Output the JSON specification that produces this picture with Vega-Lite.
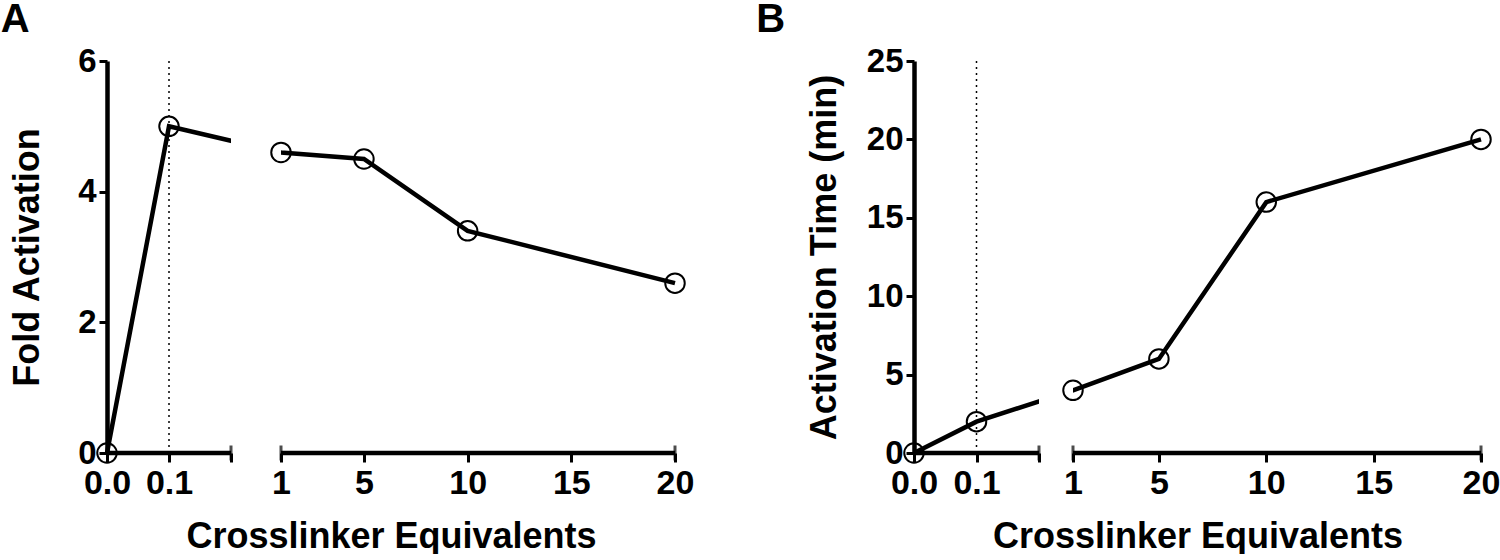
{
  "$schema": "https://vega.github.io/schema/vega-lite/v6.json",
  "background": "white",
  "padding": {"left": 0, "top": 0, "right": 0, "bottom": 0},
  "config": {
    "view": {"stroke": null},
    "font": "Liberation Sans",
    "title": {"font": "Liberation Sans", "fontSize": 40, "fontWeight": "bold", "color": "black", "anchor": "start", "frame": "bounds", "offset": 5},
    "axis": {
      "grid": false,
      "labelFont": "Liberation Sans", "labelFontWeight": "bold", "labelColor": "black",
      "titleFont": "Liberation Sans", "titleFontWeight": "bold", "titleColor": "black", "titleFontSize": 36,
      "domainColor": "black", "tickColor": "black"
    }
  },
  "datasets": {
    "a": [{"x": 0, "y": 0}, {"x": 0.1, "y": 5.0}, {"x": 1, "y": 4.6}, {"x": 5, "y": 4.5}, {"x": 10, "y": 3.4}, {"x": 20, "y": 2.6}],
    "b": [{"x": 0, "y": 0}, {"x": 0.1, "y": 2}, {"x": 1, "y": 4}, {"x": 5, "y": 6}, {"x": 10, "y": 16}, {"x": 20, "y": 20}],
    "segs": [{"x": 0, "x2": 0.2}, {"x": 1, "x2": 20}],
    "gap": [{"x": 0.2, "x2": 1}],
    "caps": [{"x": 0.2}, {"x": 1}, {"x": 20}],
    "ref": [{"x": 0.1}]
  },
  "spacing": 62,
  "hconcat": [
    {
      "width": 568, "height": 392,
      "title": {"text": "A", "dx": -9},
      "layer": [
        {
          "data": {"name": "a"},
          "mark": {"type": "line", "color": "black", "strokeWidth": 4.5},
          "encoding": {
            "x": {"field": "x", "type": "quantitative",
              "scale": {"domain": [0, 0.2, 1, 20], "range": [0, 124, 174, 568], "nice": false, "zero": false},
              "title": "Crosslinker Equivalents",
              "axis": {"domain": false, "values": [0, 0.1, 0.2, 1, 5, 10, 15, 20], "tickSize": 9, "tickWidth": 3,
                "labelFontSize": 34, "labelPadding": 4, "labelOverlap": false, "labelFlush": false, "titlePadding": 19,
                "labelExpr": "datum.value == 0.2 ? '' : (datum.value < 1 ? format(datum.value, '.1f') : format(datum.value, 'd'))"}},
            "y": {"field": "y", "type": "quantitative",
              "scale": {"domain": [0, 6], "nice": false},
              "title": "Fold Activation",
              "axis": {"values": [0, 2, 4, 6], "format": "d", "domainWidth": 4.5, "tickSize": 8, "tickWidth": 3, "labelFontSize": 33, "labelPadding": 3, "titlePadding": 31}}
          }
        },
        {
          "data": {"name": "gap"},
          "mark": {"type": "rect", "color": "white"},
          "encoding": {"x": {"field": "x", "type": "quantitative"}, "x2": {"field": "x2"}}
        },
        {
          "data": {"name": "segs"},
          "mark": {"type": "rule", "color": "black", "strokeWidth": 4.5},
          "encoding": {"x": {"field": "x", "type": "quantitative"}, "x2": {"field": "x2"}, "y": {"datum": 0}}
        },
        {
          "data": {"name": "caps"},
          "mark": {"type": "tick", "orient": "vertical", "color": "black", "size": 15, "thickness": 3},
          "encoding": {"x": {"field": "x", "type": "quantitative"}, "y": {"datum": 0}}
        },
        {
          "data": {"name": "ref"},
          "mark": {"type": "rule", "color": "black", "strokeWidth": 1.5, "strokeDash": [2, 4]},
          "encoding": {"x": {"field": "x", "type": "quantitative"}}
        },
        {
          "data": {"name": "a"},
          "mark": {"type": "point", "shape": "circle", "filled": false, "color": "black", "size": 380, "strokeWidth": 2, "opacity": 1},
          "encoding": {"x": {"field": "x", "type": "quantitative"}, "y": {"field": "y", "type": "quantitative"}}
        }
      ]
    },
    {
      "width": 567, "height": 392,
      "title": {"text": "B", "dx": -50},
      "layer": [
        {
          "data": {"name": "b"},
          "mark": {"type": "line", "color": "black", "strokeWidth": 4.5},
          "encoding": {
            "x": {"field": "x", "type": "quantitative",
              "scale": {"domain": [0, 0.2, 1, 20], "range": [0, 125, 159, 567], "nice": false, "zero": false},
              "title": "Crosslinker Equivalents",
              "axis": {"domain": false, "values": [0, 0.1, 0.2, 1, 5, 10, 15, 20], "tickSize": 9, "tickWidth": 3,
                "labelFontSize": 34, "labelPadding": 4, "labelOverlap": false, "labelFlush": false, "titlePadding": 19,
                "labelExpr": "datum.value == 0.2 ? '' : (datum.value < 1 ? format(datum.value, '.1f') : format(datum.value, 'd'))"}},
            "y": {"field": "y", "type": "quantitative",
              "scale": {"domain": [0, 25], "nice": false},
              "title": "Activation Time (min)",
              "axis": {"values": [0, 5, 10, 15, 20, 25], "format": "d", "domainWidth": 4.5, "tickSize": 8, "tickWidth": 3, "labelFontSize": 33, "labelPadding": 3, "titlePadding": 23}}
          }
        },
        {
          "data": {"name": "gap"},
          "mark": {"type": "rect", "color": "white"},
          "encoding": {"x": {"field": "x", "type": "quantitative"}, "x2": {"field": "x2"}}
        },
        {
          "data": {"name": "segs"},
          "mark": {"type": "rule", "color": "black", "strokeWidth": 4.5},
          "encoding": {"x": {"field": "x", "type": "quantitative"}, "x2": {"field": "x2"}, "y": {"datum": 0}}
        },
        {
          "data": {"name": "caps"},
          "mark": {"type": "tick", "orient": "vertical", "color": "black", "size": 15, "thickness": 3},
          "encoding": {"x": {"field": "x", "type": "quantitative"}, "y": {"datum": 0}}
        },
        {
          "data": {"name": "ref"},
          "mark": {"type": "rule", "color": "black", "strokeWidth": 1.5, "strokeDash": [2, 4]},
          "encoding": {"x": {"field": "x", "type": "quantitative"}}
        },
        {
          "data": {"name": "b"},
          "mark": {"type": "point", "shape": "circle", "filled": false, "color": "black", "size": 380, "strokeWidth": 2, "opacity": 1},
          "encoding": {"x": {"field": "x", "type": "quantitative"}, "y": {"field": "y", "type": "quantitative"}}
        }
      ]
    }
  ]
}
